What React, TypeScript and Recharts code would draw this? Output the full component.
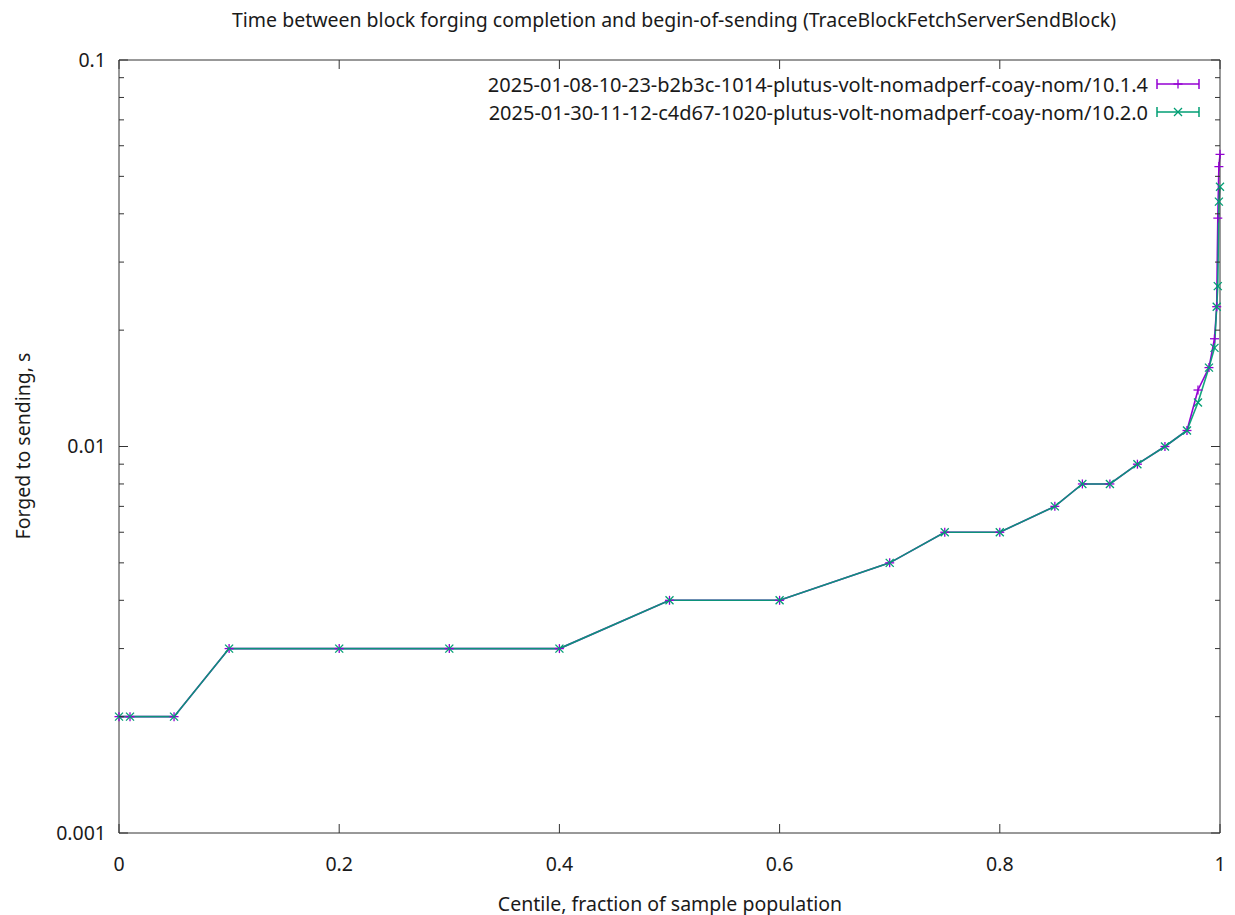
import React from "react";
import { LineChart, Line, XAxis, YAxis } from "recharts";

const centiles = [
  0, 0.01, 0.05, 0.1, 0.2, 0.3, 0.4, 0.5, 0.6, 0.7, 0.75, 0.8, 0.85, 0.875, 0.9,
  0.925, 0.95, 0.97, 0.98, 0.99, 0.995, 0.997, 0.998, 0.999, 1.0,
];
const run1014 = [
  0.002, 0.002, 0.002, 0.003, 0.003, 0.003, 0.003, 0.004, 0.004, 0.005, 0.006,
  0.006, 0.007, 0.008, 0.008, 0.009, 0.01, 0.011, 0.014, 0.016, 0.019, 0.023,
  0.039, 0.053, 0.057,
];
const run1020 = [
  0.002, 0.002, 0.002, 0.003, 0.003, 0.003, 0.003, 0.004, 0.004, 0.005, 0.006,
  0.006, 0.007, 0.008, 0.008, 0.009, 0.01, 0.011, 0.013, 0.016, 0.018, 0.023,
  0.026, 0.043, 0.047,
];
const seriesNames = [
  "2025-01-08-10-23-b2b3c-1014-plutus-volt-nomadperf-coay-nom/10.1.4",
  "2025-01-30-11-12-c4d67-1020-plutus-volt-nomadperf-coay-nom/10.2.0",
];
const xTicks = [0, 0.2, 0.4, 0.6, 0.8, 1];
const yTicks = [
  0.001, 0.002, 0.003, 0.004, 0.005, 0.006, 0.007, 0.008, 0.009, 0.01, 0.02,
  0.03, 0.04, 0.05, 0.06, 0.07, 0.08, 0.09, 0.1,
];
const yLabelled = [0.001, 0.01, 0.1];

const PURPLE = "#9400d3";
const TEAL = "#009e73";
const FONT = "'Noto Sans', sans-serif";
const FS = 19.5;
const TXT = "#1a1a1a";
const BORDER = "#333";

const data = centiles.map((c, i) => ({ c, a: run1014[i], b: run1020[i] }));

const Plus = ({ cx, cy, color }: any) =>
  cx == null || cy == null ? null : (
    <g stroke={color} strokeWidth={1.3}>
      <line x1={cx - 4.5} y1={cy} x2={cx + 4.5} y2={cy} />
      <line x1={cx} y1={cy - 4.5} x2={cx} y2={cy + 4.5} />
    </g>
  );

const Cross = ({ cx, cy, color }: any) =>
  cx == null || cy == null ? null : (
    <g stroke={color} strokeWidth={1.3}>
      <line x1={cx - 4} y1={cy - 4} x2={cx + 4} y2={cy + 4} />
      <line x1={cx - 4} y1={cy + 4} x2={cx + 4} y2={cy - 4} />
    </g>
  );

const isMajor = (v: number) => yLabelled.some((m) => Math.abs(m - v) < 1e-9);

const LeftTick = ({ x, y, payload }: any) => {
  const major = isMajor(payload.value);
  return (
    <g>
      <line x1={x} y1={y} x2={x + (major ? 9 : 5)} y2={y} stroke={BORDER} />
      {major && (
        <text x={x - 13} y={y} dy="0.35em" textAnchor="end" fontSize={FS} fontFamily={FONT} fill={TXT}>
          {String(payload.value)}
        </text>
      )}
    </g>
  );
};

const RightTick = ({ x, y, payload }: any) => {
  const major = isMajor(payload.value);
  return <line x1={x} y1={y} x2={x - (major ? 9 : 5)} y2={y} stroke={BORDER} />;
};

const BottomTick = ({ x, y, payload }: any) => (
  <g>
    <line x1={x} y1={y} x2={x} y2={y - 9} stroke={BORDER} />
    <text x={x} y={y + 38} textAnchor="middle" fontSize={FS} fontFamily={FONT} fill={TXT}>
      {String(payload.value)}
    </text>
  </g>
);

const TopTick = ({ x, y }: any) => (
  <line x1={x} y1={y} x2={x} y2={y + 9} stroke={BORDER} />
);

const LegendRow = ({ name, color, marker }: any) => (
  <div style={{ display: "flex", alignItems: "center", justifyContent: "flex-end", height: 28 }}>
    <span style={{ fontSize: 20, fontFamily: FONT, color: TXT, marginRight: 8 }}>{name}</span>
    <svg width={44} height={14}>
      <line x1={1} y1={7} x2={43} y2={7} stroke={color} strokeWidth={1.5} />
      <line x1={1} y1={2} x2={1} y2={12} stroke={color} strokeWidth={1.5} />
      <line x1={43} y1={2} x2={43} y2={12} stroke={color} strokeWidth={1.5} />
      {marker === "plus" ? <Plus cx={22} cy={7} color={color} /> : <Cross cx={22} cy={7} color={color} />}
    </svg>
  </div>
);

export default function App() {
  return (
    <div style={{ position: "absolute", left: 0, top: 0, width: 1235, height: 915, background: "#fff" }}>
      <LineChart width={1235} height={915} data={data} margin={{ top: 0, right: 0, bottom: 0, left: 0 }}>
        <XAxis
          dataKey="c"
          type="number"
          domain={[0, 1]}
          ticks={xTicks}
          height={82}
          tickSize={0}
          tickMargin={0}
          tickLine={false}
          axisLine={{ stroke: BORDER }}
          tick={<BottomTick />}
          interval={0}
        />
        <XAxis
          xAxisId="top"
          orientation="top"
          dataKey="c"
          type="number"
          domain={[0, 1]}
          ticks={xTicks}
          height={60}
          tickSize={0}
          tickMargin={0}
          tickLine={false}
          axisLine={{ stroke: BORDER }}
          tick={<TopTick />}
          interval={0}
        />
        <YAxis
          scale="log"
          type="number"
          domain={[0.001, 0.1]}
          allowDataOverflow
          ticks={yTicks}
          width={119}
          tickSize={0}
          tickMargin={0}
          tickLine={false}
          axisLine={{ stroke: BORDER }}
          tick={<LeftTick />}
          interval={0}
        />
        <YAxis
          yAxisId="right"
          orientation="right"
          scale="log"
          type="number"
          domain={[0.001, 0.1]}
          allowDataOverflow
          ticks={yTicks}
          width={15}
          tickSize={0}
          tickMargin={0}
          tickLine={false}
          axisLine={{ stroke: BORDER }}
          tick={<RightTick />}
          interval={0}
        />
        <Line
          dataKey="a"
          type="linear"
          stroke={PURPLE}
          strokeWidth={1.6}
          dot={(p: any) => <Plus key={`a-${p.index}`} cx={p.cx} cy={p.cy} color={PURPLE} />}
          isAnimationActive={false}
        />
        <Line
          dataKey="b"
          type="linear"
          stroke={TEAL}
          strokeWidth={1.6}
          strokeOpacity={0.92}
          dot={(p: any) => <Cross key={`b-${p.index}`} cx={p.cx} cy={p.cy} color={TEAL} />}
          isAnimationActive={false}
        />
      </LineChart>
      <div
        style={{
          position: "absolute", top: 6, left: 0, width: 1348, textAlign: "center",
          fontSize: FS, fontFamily: FONT, color: TXT, whiteSpace: "nowrap",
        }}
      >
        Time between block forging completion and begin-of-sending (TraceBlockFetchServerSendBlock)
      </div>
      <div
        style={{
          position: "absolute", top: 890, left: 0, width: 1340, textAlign: "center",
          fontSize: FS, fontFamily: FONT, color: TXT, whiteSpace: "nowrap",
        }}
      >
        Centile, fraction of sample population
      </div>
      <div
        style={{
          position: "absolute", left: 22, top: 446, transform: "translate(-50%, -50%) rotate(-90deg)",
          whiteSpace: "nowrap", fontSize: FS, fontFamily: FONT, color: TXT,
        }}
      >
        Forged to sending, s
      </div>
      <div style={{ position: "absolute", right: 35, top: 70 }}>
        <LegendRow name={seriesNames[0]} color={PURPLE} marker="plus" />
        <LegendRow name={seriesNames[1]} color={TEAL} marker="cross" />
      </div>
    </div>
  );
}
